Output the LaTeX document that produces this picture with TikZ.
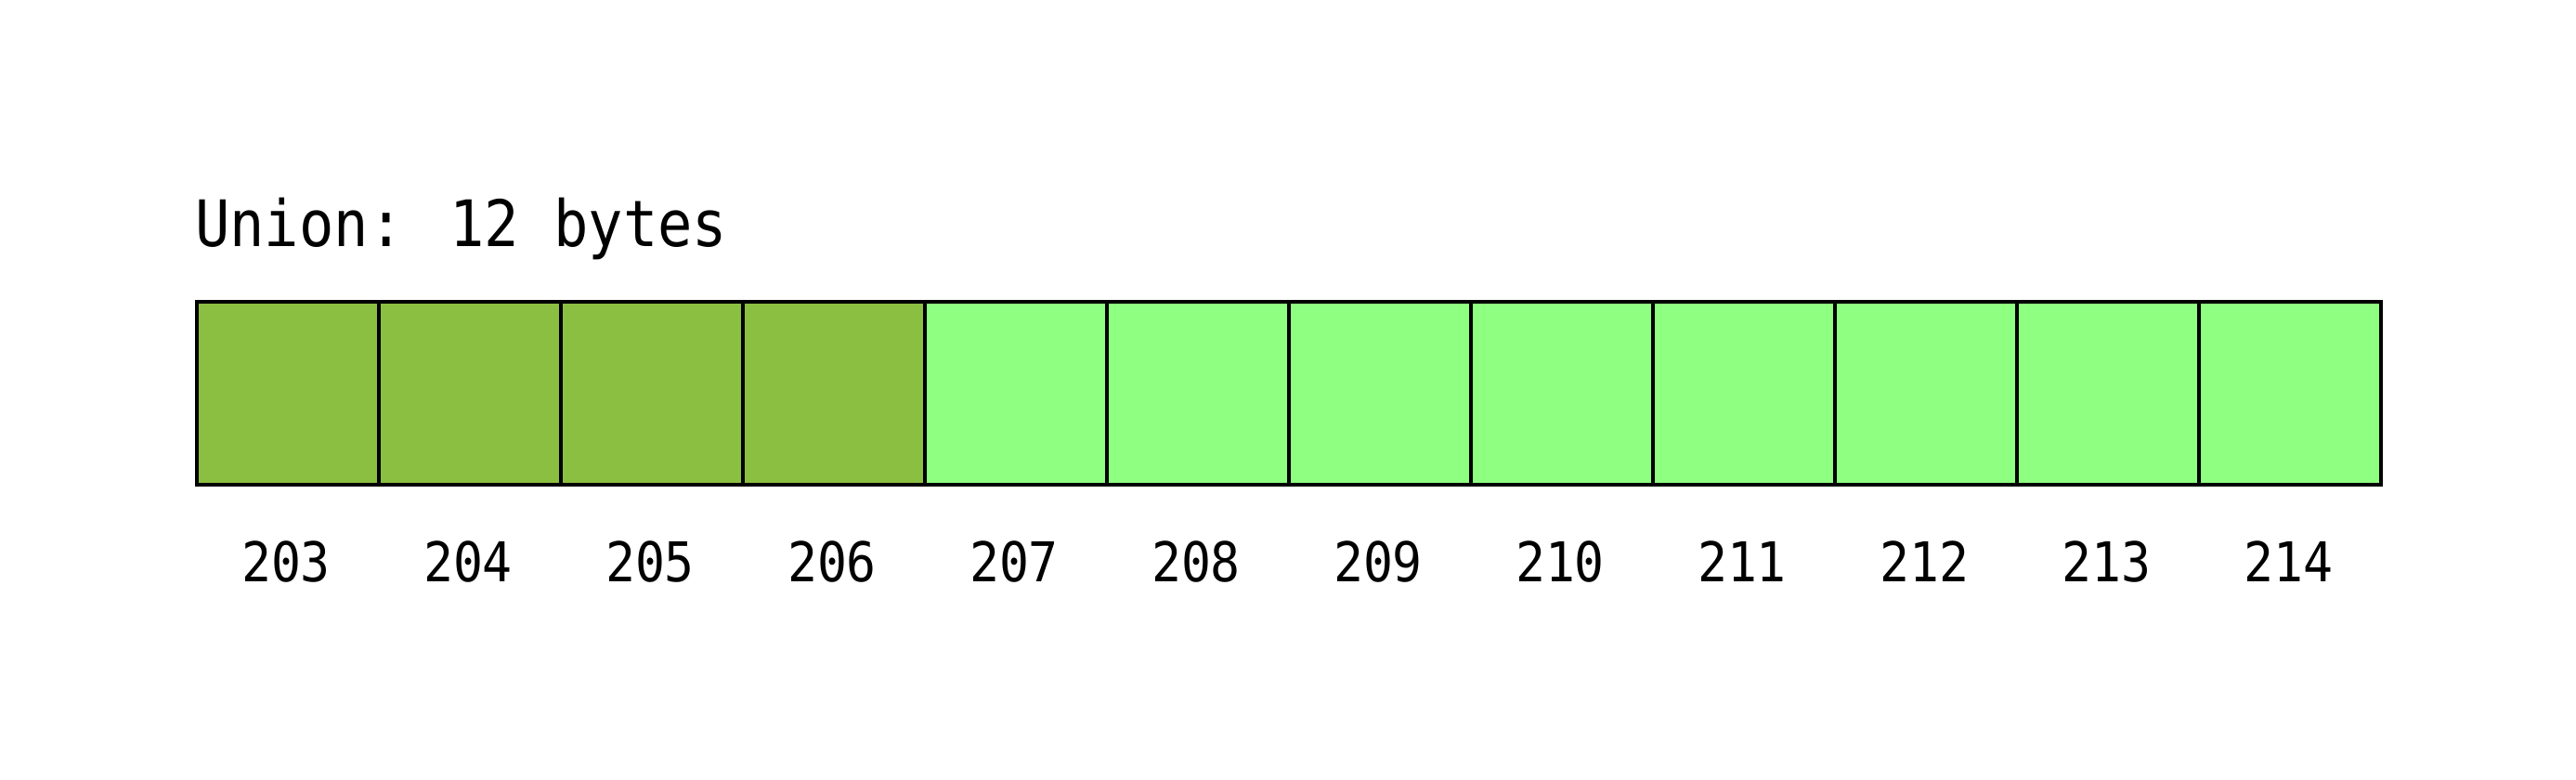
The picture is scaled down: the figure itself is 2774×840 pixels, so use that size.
\documentclass[tikz,border=0pt]{standalone}
\usepackage{fontspec}
\newfontfamily\monofont[FakeStretch=0.9]{DejaVu Sans Mono}
\definecolor{darkcell}{HTML}{8BBF41}
\definecolor{lightcell}{HTML}{8EFF80}
\begin{document}
\begin{tikzpicture}[x=1pt,y=-1pt,
  cell/.style={draw=black,line width=3.2pt,minimum width=196pt,minimum height=197pt,inner sep=0pt,outer sep=0pt,anchor=north west},
  idx/.style={font=\monofont\fontsize{59}{70}\selectfont,anchor=base,inner sep=0pt},
  title/.style={font=\monofont\fontsize{69}{80}\selectfont,anchor=base west,inner sep=0pt}]
\useasboundingbox (0,0) rectangle (2774,840);
\fill[white] (0,0) rectangle (2774,840);
\node[title] (t) at (210,265) {Union: 12 bytes};
\foreach \i [count=\k from 0] in {203,...,214}{
  \ifnum\k<4
    \node[cell,fill=darkcell] (c\k) at ({212+196*\k},325) {};
  \else
    \node[cell,fill=lightcell] (c\k) at ({212+196*\k},325) {};
  \fi
  \node[idx] (l\k) at ({212+96+196*\k},626) {\i};
}
\end{tikzpicture}
\end{document}
